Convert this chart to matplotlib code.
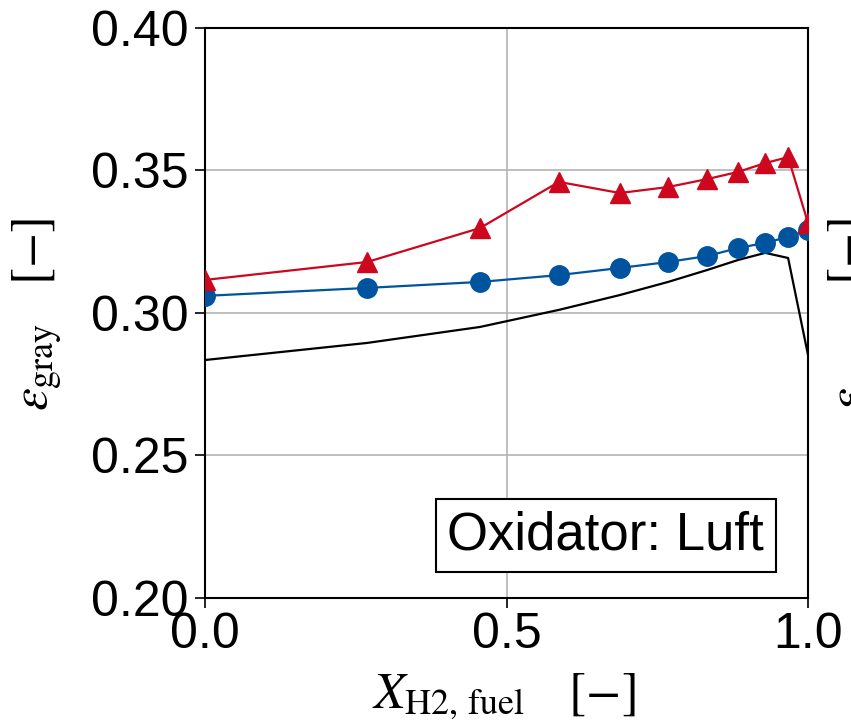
import matplotlib
matplotlib.use("Agg")
import matplotlib.pyplot as plt

# Data
x_h2 = [0.0, 0.269, 0.456, 0.587, 0.688, 0.768, 0.833, 0.884, 0.929, 0.967, 1.0]
eps_triangles = [0.3116, 0.3179, 0.3298, 0.3460, 0.3421, 0.3442, 0.3470, 0.3495, 0.3526, 0.3547, 0.3316]
eps_circles = [0.3060, 0.3088, 0.3109, 0.3133, 0.3158, 0.3179, 0.3200, 0.3228, 0.3246, 0.3267, 0.3291]
eps_line = [0.2835, 0.2895, 0.2951, 0.3011, 0.3063, 0.3109, 0.3151, 0.3186, 0.3211, 0.3193, 0.2853]

x_ticks = [0.0, 0.5, 1.0]
x_ticklabels = ["0.0", "0.5", "1.0"]
y_ticks = [0.20, 0.25, 0.30, 0.35, 0.40]
y_ticklabels = ["0.20", "0.25", "0.30", "0.35", "0.40"]
box_label = "Oxidator: Luft"

plt.rcParams['font.family'] = ['Liberation Sans', 'DejaVu Sans']
plt.rcParams['mathtext.fontset'] = 'stix'

W, H = 851, 724
fig = plt.figure(figsize=(W / 100, H / 100), dpi=100)
ax = fig.add_axes([205 / W, 1 - 598 / H, (808 - 205) / W, (598 - 28) / H])

ax.grid(True, color='#b4b4b4', linewidth=1.2, zorder=0)
ax.set_axisbelow(True)

ax.plot(x_h2, eps_line, color='black', linewidth=1.6, zorder=2)
ax.plot(x_h2, eps_circles, color='#00549F', linewidth=1.6, marker='o', markersize=14, zorder=3)
ax.plot(x_h2, eps_triangles, color='#CC071E', linewidth=1.6, marker='^', markersize=15, zorder=4)

ax.set_xlim(0.0, 1.0)
ax.set_ylim(0.20, 0.40)
ax.set_xticks(x_ticks)
ax.set_xticklabels(x_ticklabels)
ax.set_yticks(y_ticks)
ax.set_yticklabels(y_ticklabels)
ax.tick_params(axis='both', direction='out', length=7, width=1.2, labelsize=36, color='black')
ax.tick_params(axis='y', pad=5)
ax.tick_params(axis='x', pad=3)

for s in ax.spines.values():
    s.set_linewidth(1.5)
    s.set_color('black')

ax.text(0.927, 0.066, box_label, transform=ax.transAxes, ha='right', va='bottom', fontsize=38,
        bbox=dict(boxstyle='square,pad=0.22', facecolor='white', edgecolor='black', linewidth=1.5), zorder=6)

fig.text(504 / W, 1 - 697 / H, r'$X_{\mathrm{H2,\,fuel}}\quad\,[-]$', ha='center', va='center', fontsize=37)
fig.text(38 / W, 1 - 315 / H, r'$\varepsilon_{\mathrm{gray}}\quad[-]$', ha='center', va='center',
         rotation=90, fontsize=37)
# neighbouring panel's label, cut off by the figure edge
fig.text(854 / W, 1 - 315 / H, r'$\varepsilon_{\mathrm{gray}}\quad[-]$', ha='center', va='center',
         rotation=90, fontsize=37)

fig.savefig('out.png', dpi=100)
